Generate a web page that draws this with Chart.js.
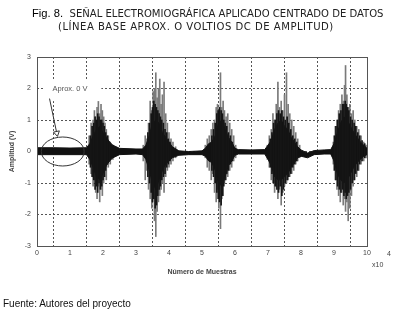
<!DOCTYPE html>
<html>
<head>
<meta charset="utf-8">
<script src="https://cdn.jsdelivr.net/npm/chart.js@4.4.1/dist/chart.umd.min.js"></script>
<style>
  html, body { margin:0; padding:0; background:#fff; width:395px; height:314px; overflow:hidden; }
  #wrap { position:relative; width:395px; height:314px; }
  canvas { position:absolute; left:0; top:0; }
  .t { position:absolute; white-space:nowrap; line-height:1; color:#222;
       font-family:"Liberation Sans Narrow","DejaVu Sans Condensed",sans-serif; font-size:11.2px; }
  .fig { font-family:"Liberation Sans",Arial,sans-serif; color:#000; }
</style>
</head>
<body>
<div id="wrap">
  <canvas id="emg" width="395" height="314"></canvas>
  <div class="t" style="left:32px;top:8px;"><span class="fig">Fig. 8.</span>&nbsp; SEÑAL ELECTROMIOGRÁFICA APLICADO CENTRADO DE DATOS</div>
  <div class="t" style="left:58px;top:21px;letter-spacing:0.5px;">(LÍNEA BASE APROX. O VOLTIOS DC DE AMPLITUD)</div>
  <div class="t" style="left:3px;top:299px;font-family:'Liberation Sans',Arial,sans-serif;font-size:10px;color:#111;">Fuente: Autores del proyecto</div>
</div>
<script>
// x in units of 10^4 samples, y in volts

// dark core of the signal (upper / lower edge)
const coreX  = [0, 0.5, 1, 1.5, 1.6, 1.7, 1.8, 1.9, 2.0, 2.1, 2.2, 2.3, 2.5,
                3.0, 3.2, 3.3, 3.4, 3.5, 3.6, 3.7, 3.8, 3.9, 4.0, 4.1, 4.3, 4.6,
                5.0, 5.1, 5.2, 5.3, 5.4, 5.5, 5.6, 5.7, 5.8, 5.9, 6.0, 6.1, 6.5,
                6.9, 7.0, 7.1, 7.2, 7.3, 7.4, 7.5, 7.6, 7.7, 7.8, 7.9, 8.0, 8.2, 8.4, 8.7,
                8.9, 9.0, 9.1, 9.2, 9.3, 9.4, 9.5, 9.6, 9.7, 9.8, 9.9, 10];
const coreHi = [0.12, 0.12, 0.11, 0.12, 0.25, 0.5, 0.7, 0.8, 0.6, 0.45, 0.3, 0.2, 0.1,
                0.08, 0.08, 0.2, 0.5, 0.9, 1.0, 0.9, 0.6, 0.45, 0.3, 0.15, 0.02, 0.0,
                0.02, 0.1, 0.25, 0.3, 0.5, 0.9, 1.0, 0.7, 0.45, 0.3, 0.1, 0.06, 0.05,
                0.06, 0.2, 0.35, 0.7, 0.9, 1.0, 0.8, 0.7, 0.45, 0.3, 0.15, 0.05, -0.05, 0.03, 0.05,
                0.06, 0.25, 0.6, 0.9, 1.1, 1.0, 0.8, 0.6, 0.45, 0.3, 0.2, 0.1];
const coreLo = [-0.1, -0.1, -0.1, -0.1, -0.25, -0.5, -0.8, -0.9, -0.7, -0.45, -0.3, -0.2, -0.1,
                -0.08, -0.1, -0.25, -0.6, -1.0, -1.2, -0.9, -0.6, -0.4, -0.3, -0.2, -0.12, -0.1,
                -0.1, -0.15, -0.3, -0.35, -0.6, -1.0, -1.1, -0.8, -0.45, -0.3, -0.12, -0.08, -0.08,
                -0.08, -0.25, -0.45, -0.8, -0.9, -0.9, -0.8, -0.7, -0.5, -0.35, -0.2, -0.15, -0.2, -0.1, -0.08,
                -0.08, -0.3, -0.7, -0.9, -1.0, -0.9, -0.7, -0.5, -0.35, -0.25, -0.15, -0.1];

// black spikes that roughen the core
const darkX  = [1.62, 1.67, 1.72, 1.76, 1.80, 1.84, 1.88, 1.92, 1.96, 2.00, 2.04, 2.08, 2.13, 2.19,
                3.36, 3.41, 3.46, 3.50, 3.54, 3.58, 3.62, 3.66, 3.70, 3.74, 3.78, 3.83, 3.88, 3.93, 3.98, 4.03,
                5.30, 5.35, 5.40, 5.45, 5.49, 5.53, 5.58, 5.62, 5.66, 5.70, 5.75, 5.80, 5.86, 5.92,
                7.07, 7.12, 7.17, 7.22, 7.27, 7.32, 7.37, 7.42, 7.47, 7.52, 7.58, 7.63, 7.69, 7.75, 7.81, 7.87,
                9.01, 9.06, 9.11, 9.16, 9.21, 9.26, 9.30, 9.34, 9.37, 9.41, 9.45, 9.50, 9.55, 9.61, 9.66, 9.72, 9.78, 9.85, 9.93];
const darkHi = [0.5, 0.8, 0.9, 1.1, 1.0, 1.2, 1.1, 1.0, 1.0, 0.9, 0.8, 0.6, 0.5, 0.3,
                0.6, 0.9, 1.2, 1.4, 1.6, 1.5, 1.4, 1.3, 1.2, 1.1, 1.0, 0.9, 0.7, 0.6, 0.4, 0.3,
                0.5, 0.7, 0.9, 1.2, 1.3, 1.4, 1.3, 1.2, 1.0, 0.9, 0.8, 0.6, 0.5, 0.3,
                0.4, 0.6, 0.9, 1.0, 1.2, 1.3, 1.2, 1.3, 1.1, 1.0, 1.1, 0.9, 0.7, 0.5, 0.4, 0.3,
                0.5, 0.8, 1.0, 1.2, 1.3, 1.5, 1.5, 1.6, 1.5, 1.4, 1.3, 1.1, 1.0, 0.9, 0.8, 0.6, 0.5, 0.35, 0.25];
const darkLo = [-0.5, -0.8, -0.9, -1.2, -1.1, -1.3, -1.0, -1.2, -1.1, -0.9, -0.8, -0.6, -0.4, -0.3,
                -0.8, -1.0, -1.3, -1.6, -1.5, -1.8, -1.7, -1.4, -1.2, -1.1, -0.9, -0.8, -0.7, -0.5, -0.4, -0.3,
                -0.6, -0.8, -1.0, -1.3, -1.5, -1.6, -1.7, -1.4, -1.1, -0.9, -0.7, -0.6, -0.4, -0.3,
                -0.5, -0.7, -1.0, -1.1, -1.2, -1.3, -1.1, -1.4, -1.2, -1.0, -0.9, -0.8, -0.7, -0.5, -0.4, -0.3,
                -0.6, -0.9, -1.1, -1.2, -1.3, -1.2, -1.4, -1.3, -1.5, -1.4, -1.3, -1.2, -1.0, -0.9, -0.7, -0.6, -0.4, -0.3, -0.2];

// grey spikes of each burst
const spikeX  = [1.58, 1.64, 1.70, 1.74, 1.78, 1.82, 1.86, 1.90, 1.94, 1.98, 2.02, 2.06, 2.10, 2.16, 2.22, 2.30,
                 3.22, 3.28, 3.33, 3.38, 3.43, 3.48, 3.52, 3.56, 3.60, 3.64, 3.68, 3.72, 3.76, 3.80, 3.85, 3.90, 3.95, 4.00, 4.06, 4.12, 4.20,
                 5.10, 5.16, 5.22, 5.28, 5.33, 5.38, 5.43, 5.47, 5.51, 5.56, 5.60, 5.64, 5.68, 5.73, 5.78, 5.84, 5.90, 5.96, 6.02,
                 6.98, 7.04, 7.10, 7.15, 7.20, 7.25, 7.30, 7.35, 7.40, 7.45, 7.50, 7.56, 7.61, 7.66, 7.72, 7.78, 7.84, 7.90, 7.96,
                 8.98, 9.04, 9.09, 9.14, 9.19, 9.24, 9.28, 9.32, 9.35, 9.39, 9.43, 9.48, 9.53, 9.58, 9.63, 9.69, 9.75, 9.82, 9.90, 9.97];
const spikeHi = [0.5, 0.9, 1.0, 1.3, 1.1, 1.4, 1.6, 1.2, 1.5, 1.3, 1.1, 0.9, 0.7, 0.5, 0.3, 0.2,
                 0.2, 0.5, 0.4, 0.9, 1.6, 1.3, 1.9, 2.0, 2.5, 1.7, 2.0, 2.3, 1.5, 1.8, 2.2, 1.2, 0.9, 0.6, 0.4, 0.3, 0.15,
                 0.2, 0.4, 0.5, 0.7, 0.9, 1.0, 1.4, 1.5, 1.2, 2.5, 1.4, 1.6, 1.3, 1.1, 1.2, 0.9, 0.7, 0.5, 0.2,
                 0.2, 0.5, 0.7, 1.2, 1.0, 1.5, 2.2, 1.4, 1.6, 1.3, 1.8, 2.5, 1.5, 1.2, 1.0, 0.8, 0.6, 0.4, 0.2,
                 0.3, 0.8, 1.0, 1.3, 1.5, 1.8, 1.6, 2.1, 2.73, 1.8, 1.4, 1.5, 1.2, 1.3, 1.0, 0.8, 0.7, 0.5, 0.3, 0.2];
const spikeLo = [-0.4, -0.7, -1.1, -0.9, -1.3, -1.5, -1.1, -1.6, -1.2, -1.4, -1.0, -0.8, -0.9, -0.5, -0.4, -0.25,
                 -0.3, -0.9, -0.6, -1.2, -1.5, -1.8, -1.3, -2.2, -2.7, -1.9, -1.6, -1.4, -1.2, -1.0, -1.3, -0.8, -0.6, -0.5, -0.4, -0.3, -0.2,
                 -0.2, -0.5, -0.6, -0.9, -0.7, -1.3, -1.6, -1.2, -1.8, -2.45, -1.5, -1.4, -1.0, -0.9, -0.8, -0.6, -0.5, -0.3, -0.2,
                 -0.25, -0.5, -0.9, -1.0, -1.3, -1.1, -1.5, -1.2, -1.7, -1.3, -1.1, -1.0, -0.9, -0.8, -0.7, -0.6, -0.4, -0.3, -0.2,
                 -0.4, -0.9, -1.2, -1.4, -1.6, -1.3, -1.7, -1.5, -1.9, -1.6, -2.2, -1.8, -1.4, -1.1, -0.9, -0.8, -0.6, -0.4, -0.3, -0.2];

// note on the baseline, in data units
const noteText = 'Aprox. 0 V';
const noteBox  = [0.22, 1.95, 1.6, 2.3];   // x0, x1, y0, y1
const noteAt   = [0.47, 2.0];
const arrowFrom = [0.38, 1.68];
const arrowTo   = [0.62, 0.48];
const ringAt   = [0.78, 0, 0.65, 0.46];     // cx, cy, rx, ry

const labelFont = 'Liberation Sans, Arial, sans-serif';

const notes = {
  id: 'notes',
  afterDatasetsDraw(chart) {
    const {ctx, chartArea: a, scales: {x, y}} = chart;
    ctx.save();
    // white box behind the note
    ctx.fillStyle = '#fff';
    const bx0 = x.getPixelForValue(noteBox[0]), bx1 = x.getPixelForValue(noteBox[1]);
    const by0 = y.getPixelForValue(noteBox[3]), by1 = y.getPixelForValue(noteBox[2]);
    ctx.fillRect(bx0, by0, bx1 - bx0, by1 - by0);
    ctx.fillStyle = '#555';
    ctx.font = '7.5px ' + labelFont;
    ctx.textBaseline = 'middle';
    ctx.fillText(noteText, x.getPixelForValue(noteAt[0]), y.getPixelForValue(noteAt[1]));
    // arrow
    const ax0 = x.getPixelForValue(arrowFrom[0]), ay0 = y.getPixelForValue(arrowFrom[1]);
    const ax1 = x.getPixelForValue(arrowTo[0]), ay1 = y.getPixelForValue(arrowTo[1]);
    const ang = Math.atan2(ay1 - ay0, ax1 - ax0);
    ctx.strokeStyle = '#333'; ctx.lineWidth = 1;
    ctx.beginPath();
    ctx.moveTo(ax0, ay0);
    ctx.lineTo(ax1 - 5 * Math.cos(ang), ay1 - 5 * Math.sin(ang));
    ctx.stroke();
    ctx.beginPath();
    ctx.moveTo(ax1, ay1);
    ctx.lineTo(ax1 - 5 * Math.cos(ang) + 3 * Math.sin(ang), ay1 - 5 * Math.sin(ang) - 3 * Math.cos(ang));
    ctx.lineTo(ax1 - 5 * Math.cos(ang) - 3 * Math.sin(ang), ay1 - 5 * Math.sin(ang) + 3 * Math.cos(ang));
    ctx.closePath();
    ctx.stroke();
    // ellipse round the baseline
    const cx = x.getPixelForValue(ringAt[0]), cy = y.getPixelForValue(ringAt[1]);
    const rx = x.getPixelForValue(ringAt[0] + ringAt[2]) - cx;
    const ry = cy - y.getPixelForValue(ringAt[1] + ringAt[3]);
    ctx.beginPath();
    ctx.ellipse(cx, cy, rx, ry, 0, 0, Math.PI * 2);
    ctx.stroke();
    // frame
    ctx.strokeStyle = '#555';
    ctx.strokeRect(a.left + 0.5, a.top + 0.5, a.right - a.left, a.bottom - a.top);
    // x10^4 exponent
    ctx.fillStyle = '#444';
    ctx.font = '7px ' + labelFont;
    ctx.fillText('x10', a.right + 5, a.bottom + 19);
    ctx.fillText('4', a.right + 20, a.bottom + 8);
    ctx.restore();
  }
};

new Chart(document.getElementById('emg').getContext('2d'), {
  type: 'line',
  data: {
    datasets: [
      {
        label: 'core top',
        data: coreX.map((v, i) => ({x: v, y: coreHi[i]})),
        borderColor: '#111', borderWidth: 1, pointRadius: 0,
        fill: false, tension: 0, order: 1
      },
      {
        label: 'core bottom',
        data: coreX.map((v, i) => ({x: v, y: coreLo[i]})),
        borderColor: '#111', borderWidth: 1, pointRadius: 0,
        fill: '-1', backgroundColor: '#111', tension: 0, order: 1
      },
      {
        type: 'bar',
        label: 'dark spikes',
        data: darkX.map((v, i) => ({x: v, y: [darkLo[i], darkHi[i]]})),
        backgroundColor: '#151515', barThickness: 1, grouped: false, order: 0
      },
      {
        type: 'bar',
        label: 'spikes',
        data: spikeX.map((v, i) => ({x: v, y: [spikeLo[i], spikeHi[i]]})),
        backgroundColor: '#7a7a7a', barThickness: 1, grouped: false, order: 2
      }
    ]
  },
  options: {
    responsive: false,
    animation: false,
    events: [],
    layout: {padding: {left: 0, top: 57, right: 28, bottom: 38}},
    plugins: {legend: {display: false}, tooltip: {enabled: false}},
    scales: {
      x: {
        type: 'linear', min: 0, max: 10, offset: false,
        afterFit(s) { s.height = 30; },
        ticks: {stepSize: 1, padding: 3, color: '#444', font: {size: 7, family: labelFont}},
        grid: {color: '#555', drawTicks: false},
        border: {display: false, dash: [2, 2]},
        title: {display: true, text: 'Número de Muestras', color: '#444',
                font: {size: 7, weight: 'bold', family: labelFont}, padding: {top: 0, bottom: 0}}
      },
      y: {
        min: -3, max: 3,
        afterFit(s) { s.width = 37; },
        ticks: {stepSize: 1, padding: 6, color: '#444', font: {size: 7, family: labelFont}},
        grid: {color: '#555', drawTicks: false},
        border: {display: false, dash: [2, 2]},
        title: {display: true, text: 'Amplitud (V)', color: '#444',
                font: {size: 7, weight: 'bold', family: labelFont}, padding: {top: 8, bottom: 0}}
      }
    }
  },
  plugins: [notes]
});
</script>
</body>
</html>
